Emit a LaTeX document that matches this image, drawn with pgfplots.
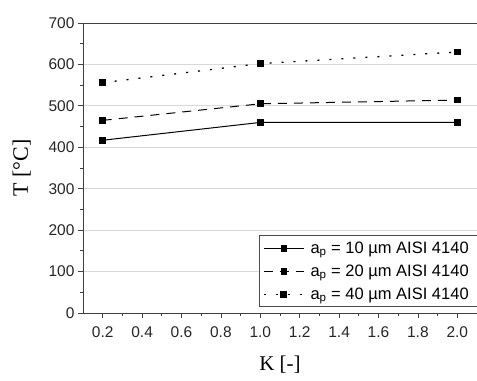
\documentclass[border=0pt]{standalone}
\usepackage{pgfplots}
\pgfplotsset{compat=1.18}
\usepackage{fontspec}
\setmainfont{Liberation Sans}
\newfontfamily\serifL{Liberation Serif}
\begin{document}
\begin{tikzpicture}
\useasboundingbox (-83bp,-68bp) rectangle (394bp,313bp);
\begin{axis}[
  at={(0,0)}, anchor=south west,
  scale only axis, width=394bp, height=290bp,
  xmin=0.1, xmax=2.1, ymin=0, ymax=700,
  xtick={0.2,0.4,...,2.0},
  xticklabel style={yshift=-5bp, /pgf/number format/fixed, /pgf/number format/fixed zerofill, /pgf/number format/precision=1},
  ytick={0,100,...,700},
  minor x tick num=1, minor y tick num=1,
  tick align=outside, tick pos=left,
  major tick length=5bp, minor tick length=3bp,
  ymajorgrids, major grid style={gray!30, line width=0.8pt},
  axis line style={line width=1pt, black!75},
  tick style={line width=0.8pt, black!75},
  /pgf/number format/assume math mode=true,
  ticklabel style={font=\fontsize{15.5bp}{17bp}\selectfont, text=black!85},
  xlabel={\serifL\fontsize{21bp}{23bp}\selectfont K [-]},
  ylabel={\serifL\fontsize{22bp}{24bp}\selectfont T [°C]},
  xlabel style={yshift=-12bp},
  ylabel style={yshift=11bp},
  legend style={at={(1,0)}, anchor=south east, xshift=2bp, yshift=6bp,
    font=\fontsize{16.5bp}{18bp}\selectfont, draw=black!70, line width=0.6pt,
    row sep=6bp, inner sep=4bp, nodes={inner xsep=6bp}},
  legend cell align=left,
  legend image code/.code={\draw[mark repeat=2,mark phase=2] plot coordinates {(0bp,0bp) (20bp,0bp) (40bp,0bp)};},
  every axis plot/.append style={black, line width=1pt, mark=square*, mark size=2.8bp, mark options={solid}},
]
\addplot[black, solid] coordinates {(0.2,417) (1.0,460) (2.0,460)};
\addlegendentry{a$_\mathrm{p}$ = 10 µm AISI 4140}
\addplot[black, dash pattern=on 9bp off 7bp] coordinates {(0.2,465) (1.0,505) (2.0,514)};
\addlegendentry{a$_\mathrm{p}$ = 20 µm AISI 4140}
\addplot[black, line width=1.3pt, dash pattern=on 2bp off 10bp] coordinates {(0.2,556) (1.0,602) (2.0,630)};
\addlegendentry{a$_\mathrm{p}$ = 40 µm AISI 4140}
\end{axis}
\end{tikzpicture}
\end{document}
